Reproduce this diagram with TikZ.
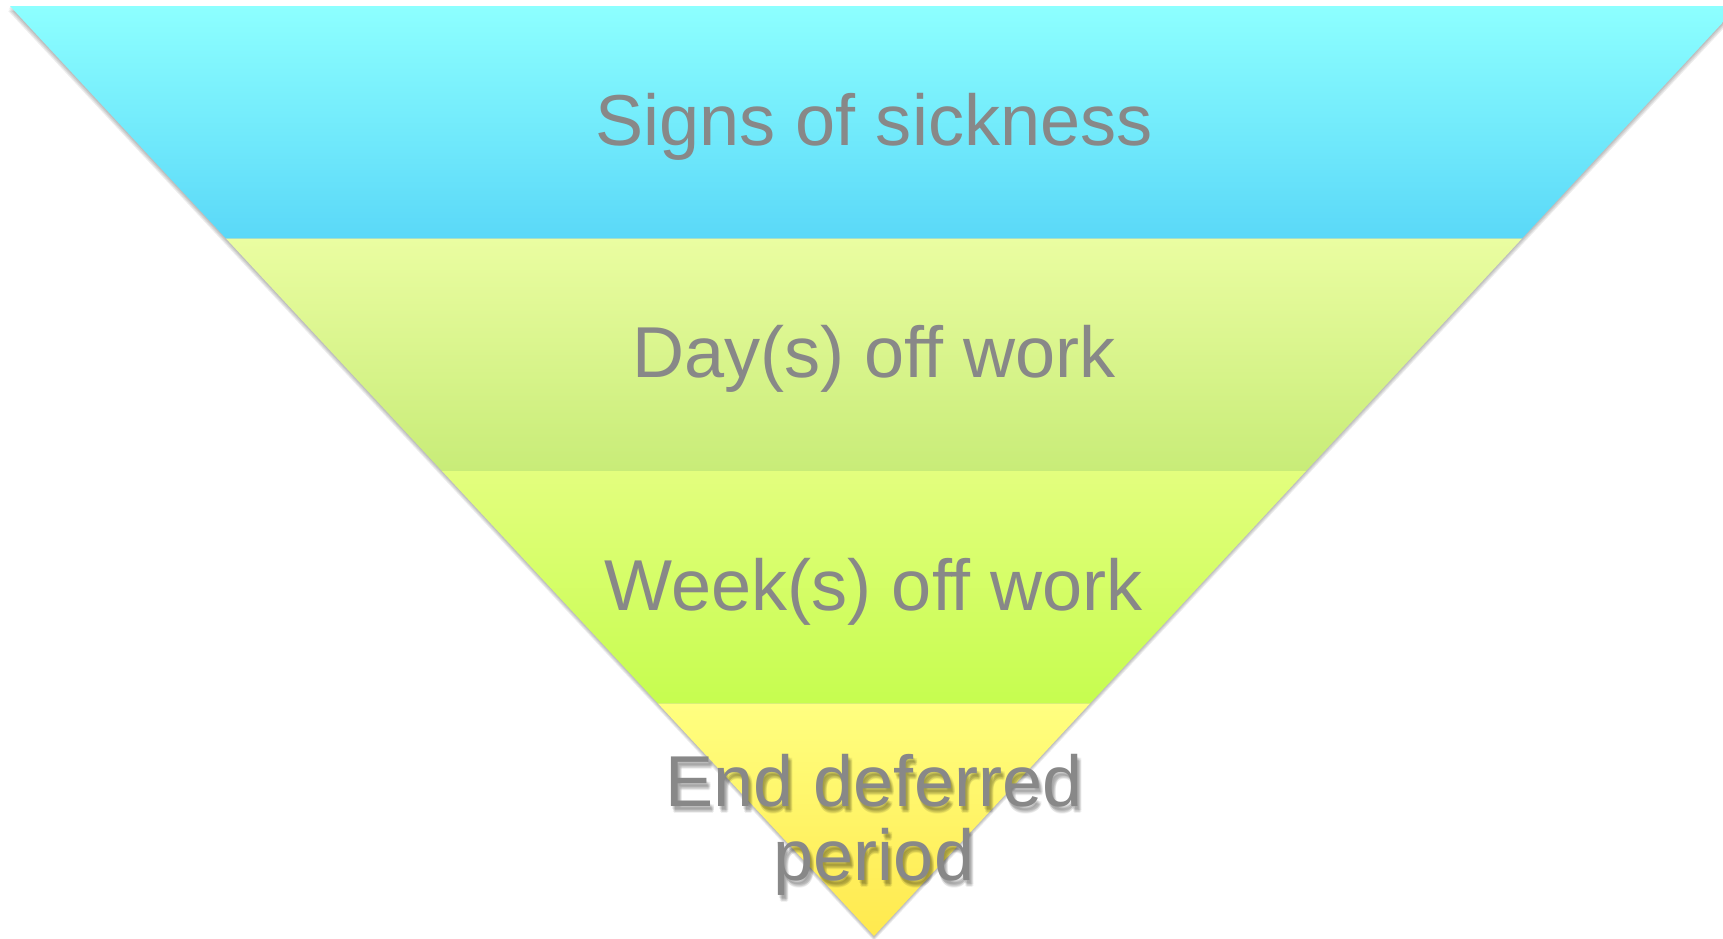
\documentclass[tikz,border=0pt]{standalone}
\usepackage{fontspec}
\setmainfont{Liberation Sans}
\usetikzlibrary{calc}
\definecolor{sickTop}{HTML}{8DFFFF}
\definecolor{sickBot}{HTML}{5AD8F8}
\definecolor{dayTop}{HTML}{EAFDA1}
\definecolor{dayBot}{HTML}{C8EC78}
\definecolor{weekTop}{HTML}{E3FE7E}
\definecolor{weekBot}{HTML}{C6FD4F}
\definecolor{endTop}{HTML}{FFFF80}
\definecolor{endBot}{HTML}{FFE94E}
\definecolor{labelGray}{HTML}{888888}

\begin{document}
\begin{tikzpicture}[
    x=0.01cm, y=-0.01cm,
    lbl/.style={font=\fontsize{20.5}{21}\selectfont, text=labelGray,
                inner sep=0pt, align=center, anchor=base},
    lblshadow/.style={lbl, text=black, opacity=0.06}
  ]
  \useasboundingbox (0,0) rectangle (1723,939);

  % funnel corners
  \coordinate (tl) at (10,6);
  \coordinate (tr) at (1738,6);
  \coordinate (apex) at (874,936);
  \foreach \i/\t in {1/0.25, 2/0.5, 3/0.75} {
    \coordinate (l\i) at ($(tl)!\t!(apex)$);
    \coordinate (r\i) at ($(tr)!\t!(apex)$);
  }

  % soft shadow under the funnel
  \foreach \d in {1,2,3,4}
    \fill[black, opacity=0.07] ([shift={(-0.5*\d,1.2*\d)}]tl) -- ([shift={(0.5*\d,1.2*\d)}]tr)
      -- ([shift={(0,1.2*\d)}]apex) -- cycle;

  % bands, top to bottom
  \shade[top color=sickTop, bottom color=sickBot] (tl) -- (tr) -- (r1) -- (l1) -- cycle;
  \shade[top color=dayTop, bottom color=dayBot]   (l1) -- (r1) -- (r2) -- (l2) -- cycle;
  \shade[top color=weekTop, bottom color=weekBot] (l2) -- (r2) -- (r3) -- (l3) -- cycle;
  \shade[top color=endTop, bottom color=endBot]   (l3) -- (r3) -- (apex) -- cycle;

  \node[lbl] (sick) at (874,145) {Signs of sickness};
  \node[lbl] (days) at (874,377) {Day(s) off work};
  \node[lbl] (weeks) at (874,610) {Week(s) off work};

  % last label has a blurred drop shadow
  \foreach \dx/\dy in {1/3, 2/4, 3/5, 4/6, 2/6, 4/4, 3/7}
    \node[lblshadow] at (874+\dx,880+\dy) {End deferred\\period};
  \node[lbl] (deferred) at (874,880) {End deferred\\period};
\end{tikzpicture}
\end{document}
